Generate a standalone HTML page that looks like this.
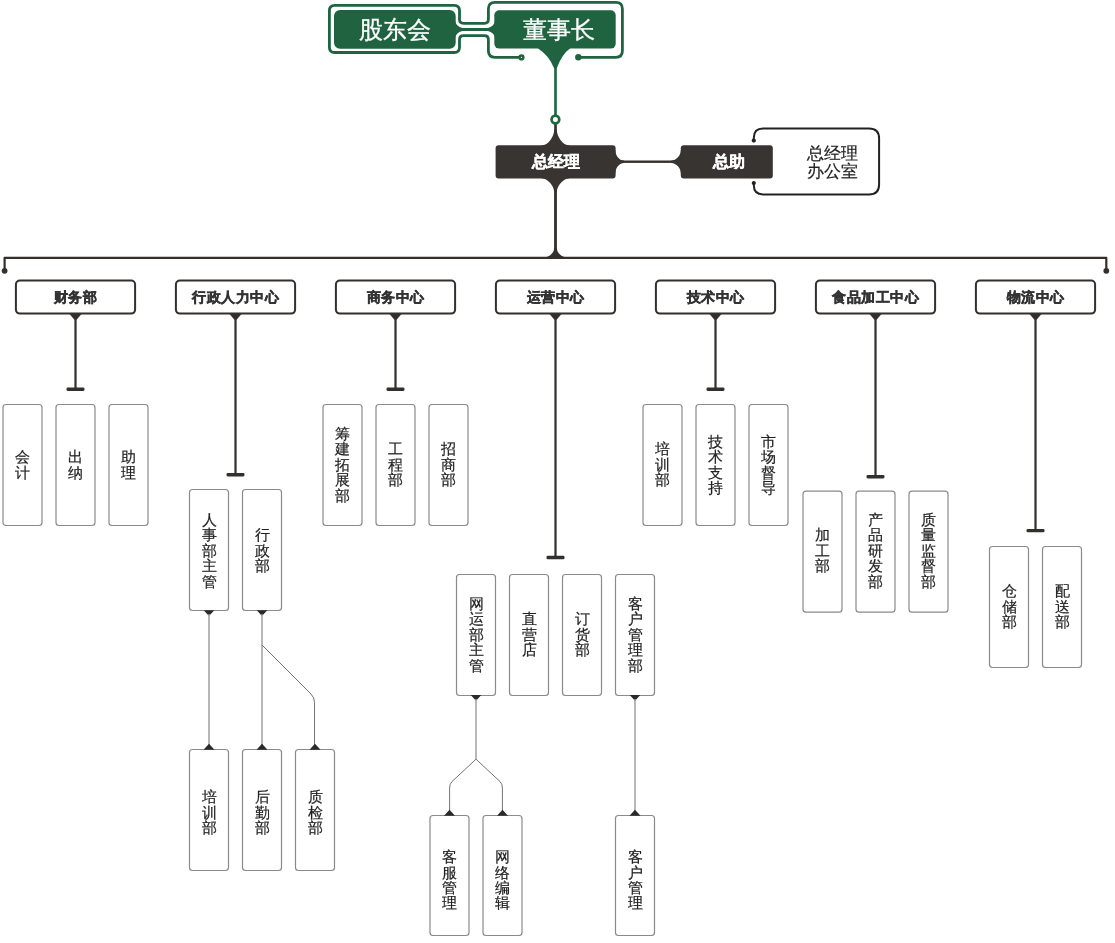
<!DOCTYPE html>
<html><head><meta charset="utf-8"><title>组织架构图</title>
<style>
html,body{margin:0;padding:0;background:#fff;}
body{width:1115px;height:943px;position:relative;overflow:hidden;font-family:"Liberation Sans",sans-serif;}
svg{position:absolute;left:0;top:0;}
body>div{will-change:transform;}
.tg{position:absolute;top:10.3px;height:39px;display:flex;align-items:center;justify-content:center;color:#fff;font-size:24px;line-height:1;-webkit-text-stroke:0.3px #fff;}
.tb{position:absolute;top:145px;height:33.4px;display:flex;align-items:center;justify-content:center;color:#fff;font-size:16px;font-weight:bold;line-height:1;-webkit-text-stroke:0.4px #fff;}
.office{position:absolute;left:807px;top:143.5px;color:#222;font-size:16.5px;line-height:18px;-webkit-text-stroke:0.2px #222;}
.dept{position:absolute;top:280px;width:121px;height:34px;display:flex;align-items:center;justify-content:center;color:#333;font-size:14px;letter-spacing:0.55px;text-indent:0.55px;font-weight:bold;line-height:1;-webkit-text-stroke:0.45px #333;}
.sub{position:absolute;width:39px;display:flex;align-items:center;justify-content:center;text-align:center;color:#222;font-size:14.5px;line-height:15.4px;-webkit-text-stroke:0.2px #222;}
</style></head>
<body>
<svg width="1115" height="943" viewBox="0 0 1115 943">
<rect x="334" y="10" width="121.7" height="38.7" rx="6" fill="#206340"/>
<rect x="494.3" y="10.2" width="121.4" height="38.4" rx="5" fill="#206340"/>
<path d="M455,21.3 Q456.6,26.6 462.2,27.9 L488,27.9 Q493.4,26.6 495,21.5 L495,37.3 Q493.4,32.2 488,30.9 L462.2,30.9 Q456.6,32.2 455,37.5 Z" fill="#206340"/>
<path d="M521.5,57.3 L494.9,57.3 Q488.4,57.3 488.4,50.8 L488.4,39.7 Q488.4,35.7 484.4,35.7 L463.5,35.7 Q459.5,35.7 459.5,39.7 L459.5,47.2 Q459.5,52.5 454.2,52.5 L334.7,52.5 Q329.4,52.5 329.4,47.2 L329.4,10.7 Q329.4,5.4 334.7,5.4 L454.2,5.4 Q459.5,5.4 459.5,10.7 L459.5,19.3 Q459.5,23.3 463.5,23.3 L484.4,23.3 Q488.4,23.3 488.4,19.3 L488.4,8.9 Q488.4,2.4 494.9,2.4 L615.9,2.4 Q622.4,2.4 622.4,8.9 L622.4,50.8 Q622.4,57.3 615.9,57.3 L578.3,57.3" fill="none" stroke="#206340" stroke-width="2.8"/>
<circle cx="521.5" cy="57.4" r="3.1" fill="#206340"/><circle cx="521.5" cy="57.4" r="0.6" fill="#fff"/>
<circle cx="578.3" cy="57.3" r="3.2" fill="#206340"/>
<path d="M537.8,47 L537.8,48.3 Q549,55.5 554.2,68.5 L556.7,68.5 Q562,54 570.3,48.3 L570.3,47 Z" fill="#206340"/>
<rect x="554.2" y="60" width="2.6" height="56" fill="#206340"/>
<circle cx="555.4" cy="119.5" r="3.85" fill="#fff" stroke="#1b6b3d" stroke-width="2.7"/>
<rect x="554.2" y="124.3" width="2.6" height="12" fill="#322f2d"/>
<path d="M541.5,145.4 C548.5,145.4 554.2,136.5 554.2,129.5 L556.8,129.5 C556.8,136.5 562.5,145.4 569.5,145.4 L569.5,146.6 L541.5,146.6 Z" fill="#383431"/>
<rect x="495.6" y="145.2" width="120" height="33.4" rx="3" fill="#383431"/>
<path d="M542.2,178.4 C547.7,178.4 554.1,186 554.1,191.5 L556.9,191.5 C556.9,186 563.3,178.4 568.8,178.4 L568.8,177.2 L542.2,177.2 Z" fill="#383431"/>
<rect x="554.1" y="190" width="2.8" height="66" fill="#322f2d"/>
<path d="M544,257.6 C548.5,257.6 554.1,253 554.1,248.5 L556.9,248.5 C556.9,253 562.5,257.6 567,257.6 L567,258.8 L544,258.8 Z" fill="#322f2d"/>
<path d="M4.6,271 L4.6,257.9 L1106.3,257.9 L1106.3,270.6" fill="none" stroke="#322f2d" stroke-width="2.2" stroke-linejoin="round"/>
<circle cx="4.6" cy="270.8" r="2.9" fill="#322f2d"/><circle cx="1106.3" cy="270.8" r="2.9" fill="#322f2d"/>
<rect x="615" y="160.5" width="66" height="2.4" fill="#322f2d"/>
<path d="M615.4,150.2 C615.4,155.2 619,160.5 624,160.5 L624,162.9 C619,162.9 615.4,168.2 615.4,173.2 L614.2,173.2 L614.2,150.2 Z" fill="#383431"/>
<path d="M680.8,150.2 C680.8,155.2 676.3,160.5 671.3,160.5 L671.3,162.9 C676.3,162.9 680.8,168.2 680.8,173.2 L682,173.2 L682,150.2 Z" fill="#383431"/>
<rect x="680.8" y="145.2" width="92" height="33.4" rx="3" fill="#383431"/>
<path d="M753.8,140.6 L753.8,138 Q753.8,128.6 763,128.6 L869,128.6 Q879.1,128.6 879.1,138.6 L879.1,184.4 Q879.1,194.4 869,194.4 L763,194.4 Q753.8,194.4 753.8,185 L753.8,183" fill="none" stroke="#222" stroke-width="2"/>
<circle cx="753.8" cy="140.6" r="2.1" fill="#222"/><circle cx="753.8" cy="183" r="2.1" fill="#222"/>
<rect x="15.9" y="280.5" width="119.2" height="33.1" rx="4" fill="#fff" stroke="#322f2d" stroke-width="2"/>
<path d="M69.5,314 L81.5,314 L76.6,319.8 L74.4,319.8 Z" fill="#322f2d"/>
<rect x="74.4" y="315" width="2.2" height="73.7" fill="#322f2d"/>
<rect x="66.5" y="387.5" width="18" height="3.4" rx="1.3" fill="#322f2d"/>
<rect x="175.9" y="280.5" width="119.2" height="33.1" rx="4" fill="#fff" stroke="#322f2d" stroke-width="2"/>
<path d="M229.5,314 L241.5,314 L236.6,319.8 L234.4,319.8 Z" fill="#322f2d"/>
<rect x="234.4" y="315" width="2.2" height="159.2" fill="#322f2d"/>
<rect x="226.5" y="473.0" width="18" height="3.4" rx="1.3" fill="#322f2d"/>
<rect x="335.9" y="280.5" width="119.2" height="33.1" rx="4" fill="#fff" stroke="#322f2d" stroke-width="2"/>
<path d="M389.5,314 L401.5,314 L396.6,319.8 L394.4,319.8 Z" fill="#322f2d"/>
<rect x="394.4" y="315" width="2.2" height="73.7" fill="#322f2d"/>
<rect x="386.5" y="387.5" width="18" height="3.4" rx="1.3" fill="#322f2d"/>
<rect x="495.9" y="280.5" width="119.2" height="33.1" rx="4" fill="#fff" stroke="#322f2d" stroke-width="2"/>
<path d="M549.5,314 L561.5,314 L556.6,319.8 L554.4,319.8 Z" fill="#322f2d"/>
<rect x="554.4" y="315" width="2.2" height="242" fill="#322f2d"/>
<rect x="546.5" y="555.8" width="18" height="3.4" rx="1.3" fill="#322f2d"/>
<rect x="655.9" y="280.5" width="119.2" height="33.1" rx="4" fill="#fff" stroke="#322f2d" stroke-width="2"/>
<path d="M709.5,314 L721.5,314 L716.6,319.8 L714.4,319.8 Z" fill="#322f2d"/>
<rect x="714.4" y="315" width="2.2" height="73.7" fill="#322f2d"/>
<rect x="706.5" y="387.5" width="18" height="3.4" rx="1.3" fill="#322f2d"/>
<rect x="815.9" y="280.5" width="119.2" height="33.1" rx="4" fill="#fff" stroke="#322f2d" stroke-width="2"/>
<path d="M869.5,314 L881.5,314 L876.6,319.8 L874.4,319.8 Z" fill="#322f2d"/>
<rect x="874.4" y="315" width="2.2" height="161.2" fill="#322f2d"/>
<rect x="866.5" y="475.0" width="18" height="3.4" rx="1.3" fill="#322f2d"/>
<rect x="975.9" y="280.5" width="119.2" height="33.1" rx="4" fill="#fff" stroke="#322f2d" stroke-width="2"/>
<path d="M1029.5,314 L1041.5,314 L1036.6,319.8 L1034.4,319.8 Z" fill="#322f2d"/>
<rect x="1034.4" y="315" width="2.2" height="215.1" fill="#322f2d"/>
<rect x="1026.5" y="528.9" width="18" height="3.4" rx="1.3" fill="#322f2d"/>
<rect x="3" y="404.5" width="39" height="121" rx="3" fill="#fff" stroke="#8a8a8a" stroke-width="1.2"/>
<rect x="56" y="404.5" width="39" height="121" rx="3" fill="#fff" stroke="#8a8a8a" stroke-width="1.2"/>
<rect x="109" y="404.5" width="39" height="121" rx="3" fill="#fff" stroke="#8a8a8a" stroke-width="1.2"/>
<rect x="189.5" y="489.5" width="39" height="121" rx="3" fill="#fff" stroke="#8a8a8a" stroke-width="1.2"/>
<rect x="242.5" y="489.5" width="39" height="121" rx="3" fill="#fff" stroke="#8a8a8a" stroke-width="1.2"/>
<rect x="189.5" y="749.5" width="39" height="121" rx="3" fill="#fff" stroke="#8a8a8a" stroke-width="1.2"/>
<rect x="242.5" y="749.5" width="39" height="121" rx="3" fill="#fff" stroke="#8a8a8a" stroke-width="1.2"/>
<rect x="295.5" y="749.5" width="39" height="121" rx="3" fill="#fff" stroke="#8a8a8a" stroke-width="1.2"/>
<rect x="323" y="404.5" width="39" height="121" rx="3" fill="#fff" stroke="#8a8a8a" stroke-width="1.2"/>
<rect x="376" y="404.5" width="39" height="121" rx="3" fill="#fff" stroke="#8a8a8a" stroke-width="1.2"/>
<rect x="429" y="404.5" width="39" height="121" rx="3" fill="#fff" stroke="#8a8a8a" stroke-width="1.2"/>
<rect x="456.5" y="574.5" width="39" height="121" rx="3" fill="#fff" stroke="#8a8a8a" stroke-width="1.2"/>
<rect x="509.5" y="574.5" width="39" height="121" rx="3" fill="#fff" stroke="#8a8a8a" stroke-width="1.2"/>
<rect x="562.5" y="574.5" width="39" height="121" rx="3" fill="#fff" stroke="#8a8a8a" stroke-width="1.2"/>
<rect x="615.5" y="574.5" width="39" height="121" rx="3" fill="#fff" stroke="#8a8a8a" stroke-width="1.2"/>
<rect x="430" y="815.5" width="39" height="120" rx="3" fill="#fff" stroke="#8a8a8a" stroke-width="1.2"/>
<rect x="483" y="815.5" width="39" height="120" rx="3" fill="#fff" stroke="#8a8a8a" stroke-width="1.2"/>
<rect x="615.5" y="815.5" width="39" height="120" rx="3" fill="#fff" stroke="#8a8a8a" stroke-width="1.2"/>
<rect x="643" y="404.5" width="39" height="121" rx="3" fill="#fff" stroke="#8a8a8a" stroke-width="1.2"/>
<rect x="696" y="404.5" width="39" height="121" rx="3" fill="#fff" stroke="#8a8a8a" stroke-width="1.2"/>
<rect x="749" y="404.5" width="39" height="121" rx="3" fill="#fff" stroke="#8a8a8a" stroke-width="1.2"/>
<rect x="803" y="491.2" width="39" height="121" rx="3" fill="#fff" stroke="#8a8a8a" stroke-width="1.2"/>
<rect x="856" y="491.2" width="39" height="121" rx="3" fill="#fff" stroke="#8a8a8a" stroke-width="1.2"/>
<rect x="909" y="491.2" width="39" height="121" rx="3" fill="#fff" stroke="#8a8a8a" stroke-width="1.2"/>
<rect x="989.5" y="546.5" width="39" height="121" rx="3" fill="#fff" stroke="#8a8a8a" stroke-width="1.2"/>
<rect x="1042.5" y="546.5" width="39" height="121" rx="3" fill="#fff" stroke="#8a8a8a" stroke-width="1.2"/>
<path d="M203.7,610.2 L214.3,610.2 L209,615.9 Z" fill="#2a2a2a"/>
<line x1="209" y1="614" x2="209" y2="745" stroke="#a0a0a0" stroke-width="1.5"/>
<path d="M203.5,749.8 L214.5,749.8 L209,743.7 Z" fill="#2a2a2a"/>
<path d="M256.7,610.2 L267.3,610.2 L262,615.9 Z" fill="#2a2a2a"/>
<line x1="262" y1="614" x2="262" y2="745" stroke="#a0a0a0" stroke-width="1.5"/>
<path d="M256.5,749.8 L267.5,749.8 L262,743.7 Z" fill="#2a2a2a"/>
<path d="M262,645 L311,694 Q314.5,697.5 314.5,702.5 L314.5,745" fill="none" stroke="#747474" stroke-width="1"/>
<path d="M309.5,749.8 L320.5,749.8 L315,743.7 Z" fill="#2a2a2a"/>
<path d="M470.7,695 L481.3,695 L476,700.7 Z" fill="#2a2a2a"/>
<line x1="476" y1="699" x2="476" y2="759.5" stroke="#a0a0a0" stroke-width="1.5"/>
<path d="M476,759.2 L452,781.5 Q449.6,784 449.6,788 L449.6,811" fill="none" stroke="#747474" stroke-width="1"/>
<path d="M476,759.2 L500,781.5 Q502.4,784 502.4,788 L502.4,811" fill="none" stroke="#747474" stroke-width="1"/>
<path d="M444,815.8 L455,815.8 L449.5,809.7 Z" fill="#2a2a2a"/>
<path d="M497,815.8 L508,815.8 L502.5,809.7 Z" fill="#2a2a2a"/>
<path d="M629.7,695 L640.3,695 L635,700.7 Z" fill="#2a2a2a"/>
<line x1="635" y1="699" x2="635" y2="811" stroke="#a0a0a0" stroke-width="1.5"/>
<path d="M629.5,815.8 L640.5,815.8 L635,809.7 Z" fill="#2a2a2a"/>
</svg>
<div class="tg" style="left:334px;width:122px">股东会</div>
<div class="tg" style="left:497.5px;width:122px">董事长</div>
<div class="tb" style="left:495.6px;width:120px">总经理</div>
<div class="tb" style="left:682.8px;width:92px">总助</div>
<div class="office">总经理<br>办公室</div>
<div class="dept" style="left:15px">财务部</div>
<div class="dept" style="left:175px">行政人力中心</div>
<div class="dept" style="left:335px">商务中心</div>
<div class="dept" style="left:495px">运营中心</div>
<div class="dept" style="left:655px">技术中心</div>
<div class="dept" style="left:815px">食品加工中心</div>
<div class="dept" style="left:975px">物流中心</div>
<div class="sub" style="left:3px;top:404.5px;height:121px">会<br>计</div>
<div class="sub" style="left:56px;top:404.5px;height:121px">出<br>纳</div>
<div class="sub" style="left:109px;top:404.5px;height:121px">助<br>理</div>
<div class="sub" style="left:189.5px;top:490.5px;height:121px">人<br>事<br>部<br>主<br>管</div>
<div class="sub" style="left:242.5px;top:490.5px;height:121px">行<br>政<br>部</div>
<div class="sub" style="left:189.5px;top:752.7px;height:121px">培<br>训<br>部</div>
<div class="sub" style="left:242.5px;top:752.7px;height:121px">后<br>勤<br>部</div>
<div class="sub" style="left:295.5px;top:752.7px;height:121px">质<br>检<br>部</div>
<div class="sub" style="left:323px;top:404.5px;height:121px">筹<br>建<br>拓<br>展<br>部</div>
<div class="sub" style="left:376px;top:404.5px;height:121px">工<br>程<br>部</div>
<div class="sub" style="left:429px;top:404.5px;height:121px">招<br>商<br>部</div>
<div class="sub" style="left:456.5px;top:574.5px;height:121px">网<br>运<br>部<br>主<br>管</div>
<div class="sub" style="left:509.5px;top:574.5px;height:121px">直<br>营<br>店</div>
<div class="sub" style="left:562.5px;top:574.5px;height:121px">订<br>货<br>部</div>
<div class="sub" style="left:615.5px;top:574.5px;height:121px">客<br>户<br>管<br>理<br>部</div>
<div class="sub" style="left:430px;top:821px;height:120px">客<br>服<br>管<br>理</div>
<div class="sub" style="left:483px;top:821px;height:120px">网<br>络<br>编<br>辑</div>
<div class="sub" style="left:615.5px;top:821px;height:120px">客<br>户<br>管<br>理</div>
<div class="sub" style="left:643px;top:404.5px;height:121px">培<br>训<br>部</div>
<div class="sub" style="left:696px;top:404.5px;height:121px">技<br>术<br>支<br>持</div>
<div class="sub" style="left:749px;top:404.5px;height:121px">市<br>场<br>督<br>导</div>
<div class="sub" style="left:803px;top:491.2px;height:121px">加<br>工<br>部</div>
<div class="sub" style="left:856px;top:491.2px;height:121px">产<br>品<br>研<br>发<br>部</div>
<div class="sub" style="left:909px;top:491.2px;height:121px">质<br>量<br>监<br>督<br>部</div>
<div class="sub" style="left:989.5px;top:546.5px;height:121px">仓<br>储<br>部</div>
<div class="sub" style="left:1042.5px;top:546.5px;height:121px">配<br>送<br>部</div>
</body></html>
